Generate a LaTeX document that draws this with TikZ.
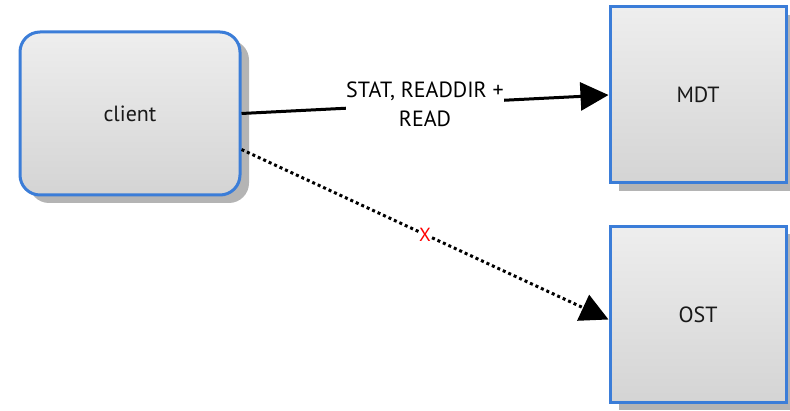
\documentclass[tikz,border=0pt]{standalone}
\usepackage{fontspec}
\setmainfont{PT Sans}
\usetikzlibrary{arrows.meta,shadows}
\definecolor{boxblue}{HTML}{3B7DD8}
\definecolor{boxtop}{HTML}{EEEEEE}
\definecolor{boxbot}{HTML}{D4D4D4}
\definecolor{shade}{HTML}{B4B4B4}
\tikzset{
  server/.style={draw=boxblue, line width=3pt, top color=boxtop, bottom color=boxbot,
    minimum width=176pt, minimum height=176pt, inner sep=0pt, text=black!90,
    font=\fontsize{22}{24}\selectfont,
    drop shadow={shadow xshift=9pt, shadow yshift=-8pt, fill=shade, opacity=1}},
  clientbox/.style={server, minimum width=220pt, minimum height=163pt, rounded corners=20pt},
  link/.style={line width=3pt, -{Triangle[length=28pt,width=28pt]}},
  lbl/.style={fill=white, inner sep=0pt, font=\fontsize{22}{29}\selectfont, text=black, align=center}
}
\begin{document}
\begin{tikzpicture}[x=1pt, y=-1pt]
  \useasboundingbox (0,0) rectangle (790,411);
  \node[clientbox] (client) at (130,113.5) {client};
  \node[server] (mdt) at (698,95) {MDT};
  \node[server] (ost) at (698,314.5) {OST};
  \coordinate (cl2) at ([yshift=-36pt]client.east);
  \draw[link] (client.east) -- node[lbl] {STAT, READDIR +\\READ} (mdt.west);
  \draw[link, dash pattern=on 3pt off 3pt] (cl2) -- node[lbl, text=red, font=\fontsize{19}{20}\selectfont] {X} ([yshift=-5pt]ost.west);
\end{tikzpicture}
\end{document}
